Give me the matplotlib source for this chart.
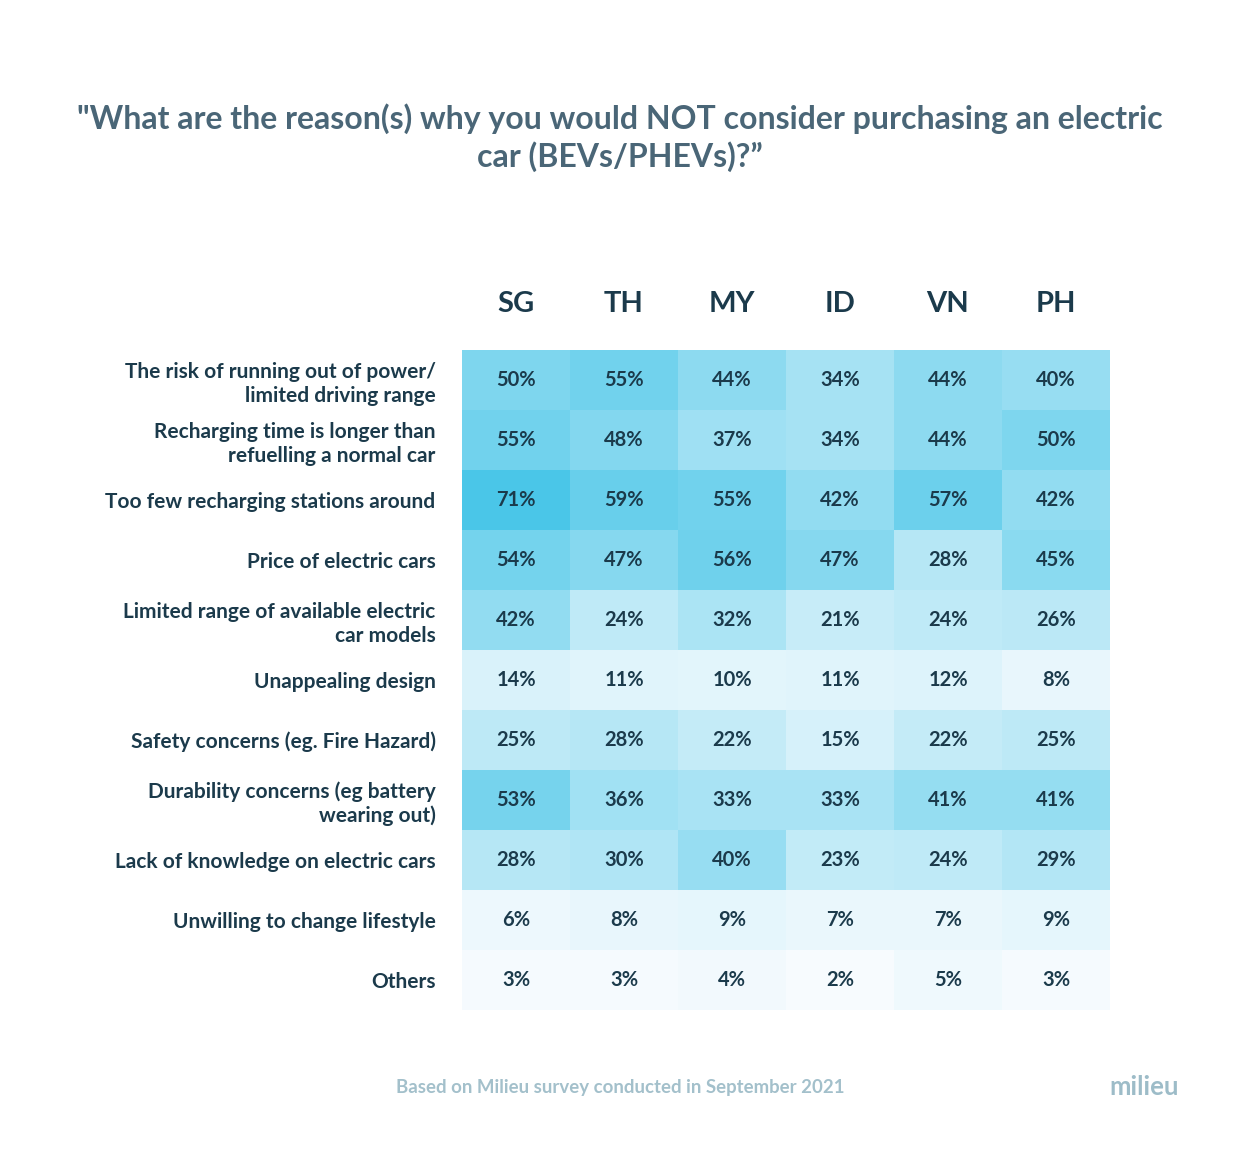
import matplotlib.pyplot as plt
import numpy as np
from matplotlib.colors import LinearSegmentedColormap

countries = ["SG", "TH", "MY", "ID", "VN", "PH"]
reasons = [
    "The risk of running out of power/\nlimited driving range",
    "Recharging time is longer than\nrefuelling a normal car",
    "Too few recharging stations around",
    "Price of electric cars",
    "Limited range of available electric\ncar models",
    "Unappealing design",
    "Safety concerns (eg. Fire Hazard)",
    "Durability concerns (eg battery\nwearing out)",
    "Lack of knowledge on electric cars",
    "Unwilling to change lifestyle",
    "Others",
]
sg = [50, 55, 71, 54, 42, 14, 25, 53, 28, 6, 3]
th = [55, 48, 59, 47, 24, 11, 28, 36, 30, 8, 3]
my = [44, 37, 55, 56, 32, 10, 22, 33, 40, 9, 4]
id_ = [34, 34, 42, 47, 21, 11, 15, 33, 23, 7, 2]
vn = [44, 44, 57, 28, 24, 12, 22, 41, 24, 7, 5]
ph = [40, 50, 42, 45, 26, 8, 25, 41, 29, 9, 3]

values = np.array([sg, th, my, id_, vn, ph]).T

W, H = 1240, 1158
fig = plt.figure(figsize=(W / 100, H / 100), dpi=100)
plt.rcParams['font.family'] = ['Lato', 'DejaVu Sans']

dark = "#1b3a4b"
cmap = LinearSegmentedColormap.from_list("milieu", ["#fcfdff", "#4ac6e8"])

ax = fig.add_axes([462 / W, 1 - 1010 / H, 648 / W, 660 / H])
ax.imshow(values, cmap=cmap, vmin=0, vmax=71, aspect="auto")
for i in range(values.shape[0]):
    for j in range(values.shape[1]):
        ax.text(j, i, f"{values[i, j]}%", ha="center", va="center",
                fontsize=14.5, color=dark, fontweight="bold")

ax.set_xticks(range(len(countries)))
ax.set_xticklabels(countries, fontsize=21, fontweight="bold", color=dark)
ax.xaxis.tick_top()
ax.tick_params(axis="x", length=0, pad=24)
ax.set_yticks(range(len(reasons)))
ax.set_yticklabels(reasons, fontsize=15, fontweight="bold", color=dark,
                   linespacing=1.22)
ax.tick_params(axis="y", length=0, pad=19)
for s in ax.spines.values():
    s.set_visible(False)

fig.text(0.5, 1 - 137.5 / H,
         "\"What are the reason(s) why you would NOT consider purchasing an electric\ncar (BEVs/PHEVs)?\u201d",
         ha="center", va="center", fontsize=23, fontweight="bold",
         color="#4a6677", linespacing=1.27)

fig.text(620 / W, 1 - 1087 / H, "Based on Milieu survey conducted in September 2021",
         ha="center", va="center", fontsize=13.4, fontweight="bold", color="#a3c0cb")
fig.text(1144 / W, 1 - 1087 / H, "milieu", ha="center", va="center",
         fontsize=18.5, fontweight="bold", color="#9dbcc8")

fig.savefig("out.png", dpi=100)
